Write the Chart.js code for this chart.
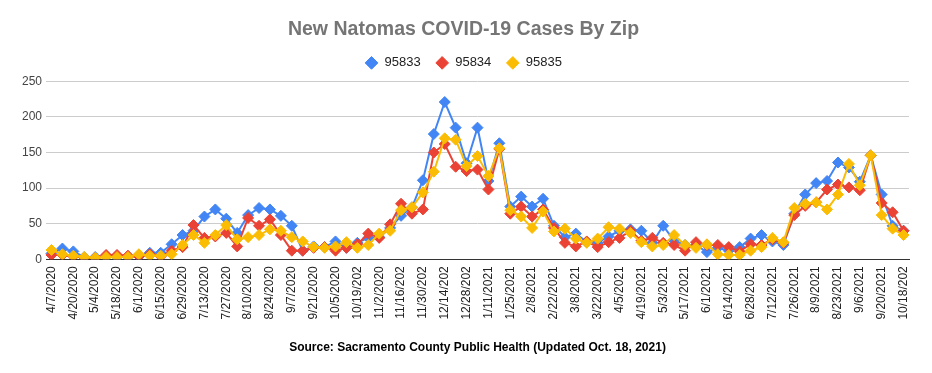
<!DOCTYPE html>
<html>
<head>
<meta charset="utf-8">
<title>New Natomas COVID-19 Cases By Zip</title>
<script src="https://cdn.jsdelivr.net/npm/chart.js@4.4.0/dist/chart.umd.min.js"></script>
<style>
	body { margin : 0; background : #fff; }
	.chartBox { width : 932px; height : 373px; }
</style>
</head>
<body>
<div class="chartBox"><canvas id="myChart" width="932" height="373"></canvas></div>
<script>
console.log("natomas chart 열림");

// 주별 날짜 (라벨은 2주마다 표시)
const weeks = [
	'4/7/2020', '4/13/2020', '4/20/2020', '4/27/2020', '5/4/2020', '5/11/2020', '5/18/2020', '5/25/2020',
	'6/1/2020', '6/8/2020', '6/15/2020', '6/22/2020', '6/29/2020', '7/6/2020', '7/13/2020', '7/20/2020',
	'7/27/2020', '8/3/2020', '8/10/2020', '8/17/2020', '8/24/2020', '8/31/2020', '9/7/2020', '9/14/2020',
	'9/21/2020', '9/28/2020', '10/5/2020', '10/12/2020', '10/19/2020', '10/26/2020', '11/2/2020', '11/9/2020',
	'11/16/2020', '11/23/2020', '11/30/2020', '12/7/2020', '12/14/2020', '12/21/2020', '12/28/2020', '1/4/2021',
	'1/11/2021', '1/18/2021', '1/25/2021', '2/1/2021', '2/8/2021', '2/15/2021', '2/22/2021', '3/1/2021',
	'3/8/2021', '3/15/2021', '3/22/2021', '3/29/2021', '4/5/2021', '4/12/2021', '4/19/2021', '4/26/2021',
	'5/3/2021', '5/10/2021', '5/17/2021', '5/24/2021', '6/1/2021', '6/7/2021', '6/14/2021', '6/21/2021',
	'6/28/2021', '7/5/2021', '7/12/2021', '7/19/2021', '7/26/2021', '8/2/2021', '8/9/2021', '8/16/2021',
	'8/23/2021', '8/30/2021', '9/6/2021', '9/13/2021', '9/20/2021', '10/4/2021', '10/18/2021'
];

const zip95833 = [
	8, 15, 11, 3, 3, 4, 3, 3, 4, 9, 9, 21, 34, 40, 60, 70,
	57, 37, 62, 72, 70, 61, 47, 12, 18, 17, 25, 16, 23, 30, 31, 44,
	61, 73, 111, 176, 221, 185, 135, 185, 110, 163, 74, 88, 74, 85, 47, 31,
	36, 24, 23, 32, 40, 42, 40, 23, 47, 26, 20, 20, 10, 16, 12, 17,
	29, 34, 25, 20, 64, 91, 107, 110, 136, 129, 109, 146, 91, 47, 40
];

const zip95834 = [
	6, 6, 4, 2, 2, 6, 6, 5, 4, 7, 4, 12, 17, 48, 30, 32,
	37, 18, 58, 47, 56, 34, 12, 12, 16, 17, 12, 16, 21, 36, 30, 49,
	78, 64, 70, 150, 162, 130, 124, 126, 98, 155, 64, 74, 60, 70, 44, 23,
	18, 25, 17, 24, 30, 40, 26, 30, 23, 20, 12, 24, 20, 20, 17, 11,
	21, 20, 28, 23, 62, 75, 80, 98, 105, 101, 97, 146, 79, 66, 40
];

const zip95835 = [
	13, 7, 5, 3, 2, 3, 3, 3, 7, 5, 5, 7, 20, 34, 23, 34,
	48, 28, 31, 34, 42, 40, 31, 25, 17, 16, 18, 24, 16, 20, 36, 40,
	69, 73, 94, 123, 170, 168, 131, 145, 117, 156, 69, 60, 44, 67, 39, 43,
	29, 23, 29, 45, 43, 37, 24, 18, 20, 34, 20, 16, 21, 7, 6, 6,
	12, 17, 30, 24, 72, 78, 80, 70, 91, 134, 104, 146, 62, 43, 34
];

const yTicks = [0, 50, 100, 150, 200, 250];

const FONT = "Arial, 'Liberation Sans', sans-serif";

// 범례와 그래프 사이 간격
const legendMargin = {
	id : 'legendMargin',
	beforeInit(chart){
		const fitValue = chart.legend.fit;
		chart.legend.fit = function fit(){
			fitValue.bind(chart.legend)();
			return this.height += 2;
		};
	}
};

function makeSet(label, data, color, order){
	return {
		label : label,
		data : data,
		borderColor : color,
		backgroundColor : color,
		borderWidth : 2,
		pointStyle : 'rectRot',
		pointRadius : 5.5,
		pointBorderWidth : 1,
		pointBackgroundColor : color,
		pointBorderColor : color,
		tension : 0,
		order : order
	};
}

const ctx = document.getElementById('myChart');

let chartLine = new Chart(ctx, {
	type : 'line',
	data : {
		labels : weeks,
		datasets : [
			makeSet('95833', zip95833, '#4285F4', 3),
			makeSet('95834', zip95834, '#EA4335', 2),
			makeSet('95835', zip95835, '#FBBC04', 1)
		]
	},
	options : {
		responsive : false,
		animation : false,
		layout : { padding : { top : 10, left : 18, right : 23, bottom : 14 } },
		plugins : {
			title : {
				display : true,
				text : 'New Natomas COVID-19 Cases By Zip',
				color : '#757575',
				font : { family : FONT, size : 19.5, weight : 'bold' },
				padding : { top : 8, bottom : 0 }
			},
			legend : {
				labels : {
					usePointStyle : true,
					boxWidth : 13,
					boxHeight : 9,
					padding : 15,
					color : '#222',
					font : { family : FONT, size : 13 },
					sort : (a, b) => a.datasetIndex - b.datasetIndex
				}
			},
			tooltip : { enabled : false }
		},
		scales : {
			x : {
				offset : true,
				grid : { display : false, drawTicks : false },
				border : { display : true, color : '#333', width : 1 },
				ticks : {
					autoSkip : false,
					maxRotation : 90,
					minRotation : 90,
					padding : 7,
					color : '#222',
					font : { family : FONT, size : 12 },
					callback : function(value, index){
						return index % 2 == 0 ? this.getLabelForValue(value).slice(0, 9) : '';
					}
				},
				title : {
					display : true,
					text : 'Source: Sacramento County Public Health (Updated Oct. 18, 2021)',
					color : '#000',
					font : { family : FONT, size : 12, weight : 'bold' },
					padding : { top : 14, bottom : 4 }
				}
			},
			y : {
				min : 0,
				max : 250,
				afterBuildTicks : (axis) => { axis.ticks = yTicks.map((v) => ({ value : v })); },
				grid : { color : '#cccccc', drawTicks : false },
				border : { display : false },
				ticks : {
					padding : 4,
					color : '#444',
					font : { family : FONT, size : 12 }
				}
			}
		}
	},
	plugins : [legendMargin]
});
</script>
</body>
</html>
